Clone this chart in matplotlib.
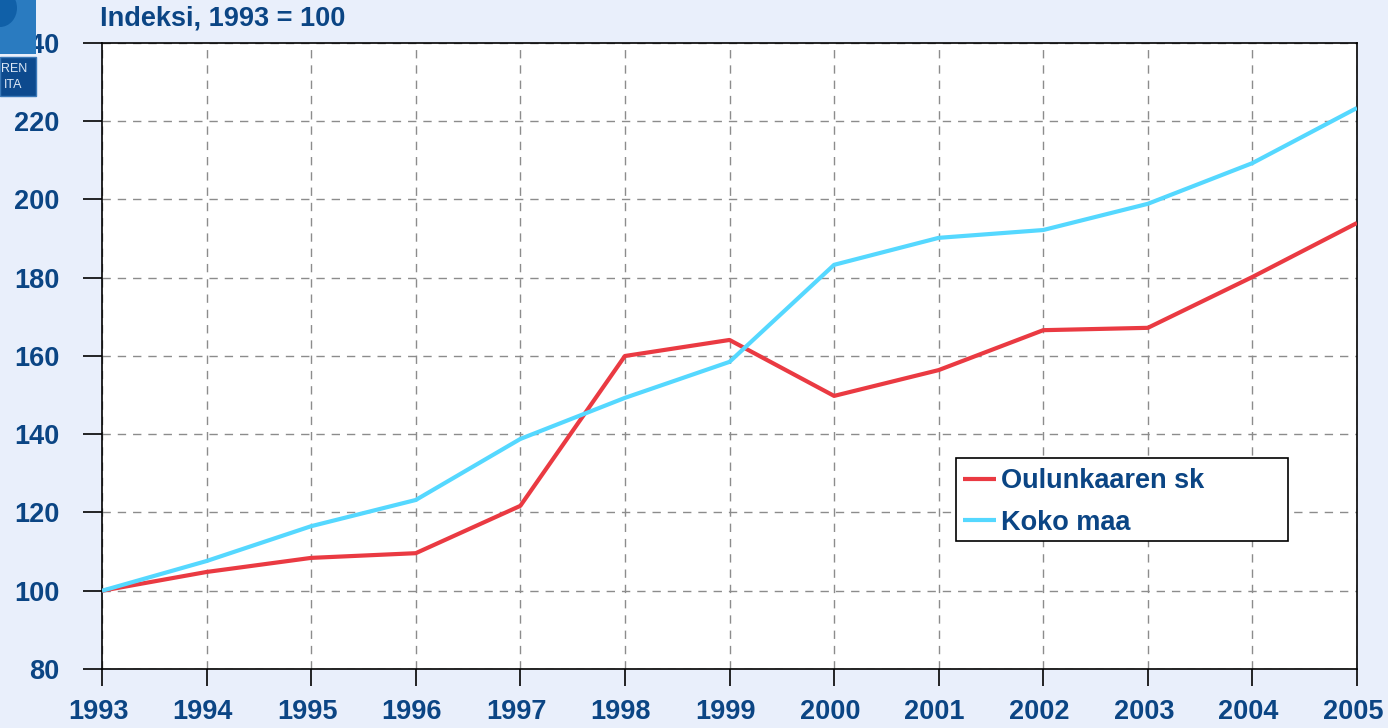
import matplotlib
matplotlib.use("Agg")
import matplotlib.pyplot as plt
from matplotlib.patches import Rectangle, Ellipse
from matplotlib.transforms import ScaledTranslation

years = [1993, 1994, 1995, 1996, 1997, 1998, 1999, 2000, 2001, 2002, 2003, 2004, 2005]
oulunkaari = [100, 104.8, 108.4, 109.6, 121.7, 160.0, 164.1, 149.8, 156.4, 166.6, 167.2, 180.2, 194.0]
koko_maa = [100, 107.6, 116.5, 123.2, 138.8, 149.3, 158.5, 183.3, 190.2, 192.2, 198.9, 209.3, 223.4]
series_names = ["Oulunkaaren sk", "Koko maa"]
y_ticks = [80, 100, 120, 140, 160, 180, 200, 220, 240]
title = "Indeksi, 1993 = 100"

TXT = "#0B4584"
BG = "#E9EFFB"
FS = 19.5
plt.rcParams['font.family'] = ['Liberation Sans', 'DejaVu Sans']
plt.rcParams['font.weight'] = 'bold'

W, H = 1388, 728
fig = plt.figure(figsize=(13.88, 7.28), dpi=100, facecolor=BG)
ax = fig.add_axes([102/W, 59/H, 1255/W, 626/H])
ax.set_facecolor("white")

ax.plot(years, oulunkaari, color="#EA3A42", lw=3.0, label=series_names[0], zorder=3, solid_capstyle='butt')
ax.plot(years, koko_maa, color="#55D8FF", lw=3.0, label=series_names[1], zorder=3, solid_capstyle='butt')

ax.set_xlim(1993, 2005)
ax.set_ylim(80, 240)
ax.set_xticks(years)
ax.set_yticks(y_ticks)
ax.set_xticklabels([str(y) for y in years])
ax.set_yticklabels([str(v) for v in y_ticks])
ax.tick_params(axis='both', direction='out', width=1.2, color='black',
               labelcolor=TXT, labelsize=FS)
ax.tick_params(axis='x', length=12.2, pad=9.5)
ax.tick_params(axis='y', length=13.7, pad=17)
for lab in ax.get_xticklabels() + ax.get_yticklabels():
    lab.set_fontweight('bold')
shift = ScaledTranslation(-4/100, 0, fig.dpi_scale_trans)
for lab in ax.get_xticklabels():
    lab.set_transform(lab.get_transform() + shift)

ax.grid(True, color="#8C8C8C", linestyle=(0, (6, 5)), linewidth=1.0, zorder=1)
for s in ax.spines.values():
    s.set_color("black")
    s.set_linewidth(1.2)

# legend frame (manual, to match wide box)
ax.add_patch(Rectangle(((956-102)/1255, (669-541)/626), 332/1255, 83/626,
                       transform=ax.transAxes, facecolor='white', edgecolor='black',
                       linewidth=1.2, zorder=4))
leg = ax.legend(loc='center left', bbox_to_anchor=((963-102)/1255, (669-502)/626),
                frameon=False, fontsize=FS, handlelength=1.2,
                handletextpad=0.2, borderpad=0, labelspacing=0.58, borderaxespad=0)
leg.set_zorder(5)
for t in leg.get_texts():
    t.set_color(TXT)
    t.set_fontweight('bold')

fig.text(100/W, 1 - 19/H, title, color=TXT, fontsize=FS, fontweight='bold',
         ha='left', va='center')

# logo approximation (top-left corner)
fig.patches.append(Rectangle((0, 1 - 54/H), 36/W, 54/H, transform=fig.transFigure,
                             facecolor="#2A7BC0", edgecolor='none', zorder=10))
fig.patches.append(Ellipse((0, 1 - 8/H), 34/W, 38/H, transform=fig.transFigure,
                           facecolor="#1060A8", edgecolor='none', zorder=11))
fig.patches.append(Rectangle((0, 1 - 96/H), 36/W, 39/H, transform=fig.transFigure,
                             facecolor="#0D4A8E", edgecolor='#3A78B8', linewidth=1, zorder=10))
fig.text(14/W, 1 - 69/H, "REN", color="#DDE8F6", fontsize=9, fontweight='normal',
         ha='center', va='center', zorder=12)
fig.text(13/W, 1 - 85/H, "ITA", color="#DDE8F6", fontsize=9, fontweight='normal',
         ha='center', va='center', zorder=12)

fig.savefig("out.png", dpi=100, facecolor=BG)
